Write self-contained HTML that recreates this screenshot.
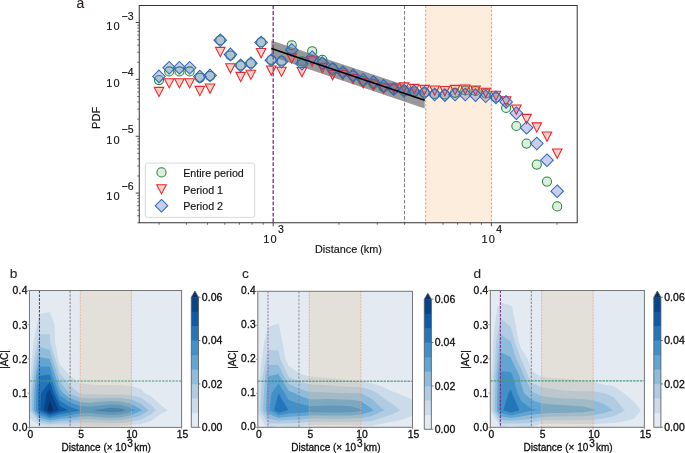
<!DOCTYPE html>
<html><head><meta charset="utf-8"><style>
html,body{margin:0;padding:0;background:#fff;}
svg{display:block;will-change:transform;}
text{stroke:#000;stroke-width:0.3px;}
.top text{stroke-width:0.15px;}
</style></head><body>
<svg width="685" height="453" viewBox="0 0 685 453" font-family='"Liberation Sans", sans-serif'>
<rect width="685" height="453" fill="#fff"/>
<g class="top"><rect x="425.72" y="5.5" width="65.68" height="217.25" fill="#fdeddc"/>
<path d="M271.3,40.4L424.7,91.8L424.7,108.60000000000001L271.3,56.6Z" fill="#999899"/>
<line x1="273.20" y1="5.5" x2="273.20" y2="222.75" stroke="#7a2a8c" stroke-width="1.3" stroke-dasharray="3.8,1.8"/>
<line x1="404.57" y1="5.5" x2="404.57" y2="222.75" stroke="#7a7a7a" stroke-width="1.0" stroke-dasharray="3.6,1.8"/>
<line x1="425.72" y1="5.5" x2="425.72" y2="222.75" stroke="#f0906a" stroke-width="0.9" stroke-dasharray="2.6,1.5"/>
<line x1="491.40" y1="5.5" x2="491.40" y2="222.75" stroke="#f0906a" stroke-width="0.9" stroke-dasharray="2.6,1.5"/>
<circle cx="159.00" cy="80.10" r="4.55" fill="#5cb85c" fill-opacity="0.22" stroke="#2a8540" stroke-width="1.05"/>
<circle cx="169.21" cy="71.40" r="4.55" fill="#5cb85c" fill-opacity="0.22" stroke="#2a8540" stroke-width="1.05"/>
<circle cx="179.42" cy="71.40" r="4.55" fill="#5cb85c" fill-opacity="0.22" stroke="#2a8540" stroke-width="1.05"/>
<circle cx="189.63" cy="71.40" r="4.55" fill="#5cb85c" fill-opacity="0.22" stroke="#2a8540" stroke-width="1.05"/>
<circle cx="199.84" cy="77.80" r="4.55" fill="#5cb85c" fill-opacity="0.22" stroke="#2a8540" stroke-width="1.05"/>
<circle cx="210.05" cy="76.00" r="4.55" fill="#5cb85c" fill-opacity="0.22" stroke="#2a8540" stroke-width="1.05"/>
<circle cx="220.26" cy="40.20" r="4.55" fill="#5cb85c" fill-opacity="0.22" stroke="#2a8540" stroke-width="1.05"/>
<circle cx="230.47" cy="55.50" r="4.55" fill="#5cb85c" fill-opacity="0.22" stroke="#2a8540" stroke-width="1.05"/>
<circle cx="240.68" cy="65.40" r="4.55" fill="#5cb85c" fill-opacity="0.22" stroke="#2a8540" stroke-width="1.05"/>
<circle cx="250.89" cy="63.20" r="4.55" fill="#5cb85c" fill-opacity="0.22" stroke="#2a8540" stroke-width="1.05"/>
<circle cx="261.10" cy="42.20" r="4.55" fill="#5cb85c" fill-opacity="0.22" stroke="#2a8540" stroke-width="1.05"/>
<circle cx="271.31" cy="59.80" r="4.55" fill="#5cb85c" fill-opacity="0.22" stroke="#2a8540" stroke-width="1.05"/>
<circle cx="281.52" cy="60.80" r="4.55" fill="#5cb85c" fill-opacity="0.22" stroke="#2a8540" stroke-width="1.05"/>
<circle cx="291.73" cy="45.20" r="4.55" fill="#5cb85c" fill-opacity="0.22" stroke="#2a8540" stroke-width="1.05"/>
<circle cx="301.94" cy="61.20" r="4.55" fill="#5cb85c" fill-opacity="0.22" stroke="#2a8540" stroke-width="1.05"/>
<circle cx="312.15" cy="51.20" r="4.55" fill="#5cb85c" fill-opacity="0.22" stroke="#2a8540" stroke-width="1.05"/>
<circle cx="322.36" cy="59.80" r="4.55" fill="#5cb85c" fill-opacity="0.22" stroke="#2a8540" stroke-width="1.05"/>
<circle cx="332.57" cy="68.20" r="4.55" fill="#5cb85c" fill-opacity="0.22" stroke="#2a8540" stroke-width="1.05"/>
<circle cx="342.78" cy="72.50" r="4.55" fill="#5cb85c" fill-opacity="0.22" stroke="#2a8540" stroke-width="1.05"/>
<circle cx="352.99" cy="75.80" r="4.55" fill="#5cb85c" fill-opacity="0.22" stroke="#2a8540" stroke-width="1.05"/>
<circle cx="363.20" cy="81.00" r="4.55" fill="#5cb85c" fill-opacity="0.22" stroke="#2a8540" stroke-width="1.05"/>
<circle cx="373.41" cy="84.00" r="4.55" fill="#5cb85c" fill-opacity="0.22" stroke="#2a8540" stroke-width="1.05"/>
<circle cx="383.62" cy="87.50" r="4.55" fill="#5cb85c" fill-opacity="0.22" stroke="#2a8540" stroke-width="1.05"/>
<circle cx="393.83" cy="89.50" r="4.55" fill="#5cb85c" fill-opacity="0.22" stroke="#2a8540" stroke-width="1.05"/>
<circle cx="404.04" cy="91.00" r="4.55" fill="#5cb85c" fill-opacity="0.22" stroke="#2a8540" stroke-width="1.05"/>
<circle cx="414.25" cy="91.50" r="4.55" fill="#5cb85c" fill-opacity="0.22" stroke="#2a8540" stroke-width="1.05"/>
<circle cx="424.46" cy="92.40" r="4.55" fill="#5cb85c" fill-opacity="0.22" stroke="#2a8540" stroke-width="1.05"/>
<circle cx="434.67" cy="94.00" r="4.55" fill="#5cb85c" fill-opacity="0.22" stroke="#2a8540" stroke-width="1.05"/>
<circle cx="444.88" cy="94.50" r="4.55" fill="#5cb85c" fill-opacity="0.22" stroke="#2a8540" stroke-width="1.05"/>
<circle cx="455.09" cy="92.80" r="4.55" fill="#5cb85c" fill-opacity="0.22" stroke="#2a8540" stroke-width="1.05"/>
<circle cx="465.30" cy="90.40" r="4.55" fill="#5cb85c" fill-opacity="0.22" stroke="#2a8540" stroke-width="1.05"/>
<circle cx="475.51" cy="91.00" r="4.55" fill="#5cb85c" fill-opacity="0.22" stroke="#2a8540" stroke-width="1.05"/>
<circle cx="485.72" cy="93.40" r="4.55" fill="#5cb85c" fill-opacity="0.22" stroke="#2a8540" stroke-width="1.05"/>
<circle cx="495.93" cy="97.40" r="4.55" fill="#5cb85c" fill-opacity="0.22" stroke="#2a8540" stroke-width="1.05"/>
<circle cx="506.14" cy="107.90" r="4.55" fill="#5cb85c" fill-opacity="0.22" stroke="#2a8540" stroke-width="1.05"/>
<circle cx="516.35" cy="126.00" r="4.55" fill="#5cb85c" fill-opacity="0.22" stroke="#2a8540" stroke-width="1.05"/>
<circle cx="526.56" cy="143.60" r="4.55" fill="#5cb85c" fill-opacity="0.22" stroke="#2a8540" stroke-width="1.05"/>
<circle cx="536.77" cy="164.60" r="4.55" fill="#5cb85c" fill-opacity="0.22" stroke="#2a8540" stroke-width="1.05"/>
<circle cx="546.98" cy="181.60" r="4.55" fill="#5cb85c" fill-opacity="0.22" stroke="#2a8540" stroke-width="1.05"/>
<circle cx="557.19" cy="206.40" r="4.55" fill="#5cb85c" fill-opacity="0.22" stroke="#2a8540" stroke-width="1.05"/>
<path d="M154.20,87.35L163.80,87.35L159.00,96.65Z" fill="#f26b4f" fill-opacity="0.32" stroke="#e8262c" stroke-width="1.05" stroke-linejoin="miter"/>
<path d="M164.41,78.65L174.01,78.65L169.21,87.95Z" fill="#f26b4f" fill-opacity="0.32" stroke="#e8262c" stroke-width="1.05" stroke-linejoin="miter"/>
<path d="M174.62,78.65L184.22,78.65L179.42,87.95Z" fill="#f26b4f" fill-opacity="0.32" stroke="#e8262c" stroke-width="1.05" stroke-linejoin="miter"/>
<path d="M184.83,78.65L194.43,78.65L189.63,87.95Z" fill="#f26b4f" fill-opacity="0.32" stroke="#e8262c" stroke-width="1.05" stroke-linejoin="miter"/>
<path d="M195.04,86.35L204.64,86.35L199.84,95.65Z" fill="#f26b4f" fill-opacity="0.32" stroke="#e8262c" stroke-width="1.05" stroke-linejoin="miter"/>
<path d="M205.25,84.05L214.85,84.05L210.05,93.35Z" fill="#f26b4f" fill-opacity="0.32" stroke="#e8262c" stroke-width="1.05" stroke-linejoin="miter"/>
<path d="M215.46,47.35L225.06,47.35L220.26,56.65Z" fill="#f26b4f" fill-opacity="0.32" stroke="#e8262c" stroke-width="1.05" stroke-linejoin="miter"/>
<path d="M225.67,63.75L235.27,63.75L230.47,73.05Z" fill="#f26b4f" fill-opacity="0.32" stroke="#e8262c" stroke-width="1.05" stroke-linejoin="miter"/>
<path d="M235.88,72.35L245.48,72.35L240.68,81.65Z" fill="#f26b4f" fill-opacity="0.32" stroke="#e8262c" stroke-width="1.05" stroke-linejoin="miter"/>
<path d="M246.09,70.15L255.69,70.15L250.89,79.45Z" fill="#f26b4f" fill-opacity="0.32" stroke="#e8262c" stroke-width="1.05" stroke-linejoin="miter"/>
<path d="M256.30,48.45L265.90,48.45L261.10,57.75Z" fill="#f26b4f" fill-opacity="0.32" stroke="#e8262c" stroke-width="1.05" stroke-linejoin="miter"/>
<path d="M266.51,66.05L276.11,66.05L271.31,75.35Z" fill="#f26b4f" fill-opacity="0.32" stroke="#e8262c" stroke-width="1.05" stroke-linejoin="miter"/>
<path d="M276.72,67.15L286.32,67.15L281.52,76.45Z" fill="#f26b4f" fill-opacity="0.32" stroke="#e8262c" stroke-width="1.05" stroke-linejoin="miter"/>
<path d="M286.93,53.85L296.53,53.85L291.73,63.15Z" fill="#f26b4f" fill-opacity="0.32" stroke="#e8262c" stroke-width="1.05" stroke-linejoin="miter"/>
<path d="M297.14,67.55L306.74,67.55L301.94,76.85Z" fill="#f26b4f" fill-opacity="0.32" stroke="#e8262c" stroke-width="1.05" stroke-linejoin="miter"/>
<path d="M307.35,56.75L316.95,56.75L312.15,66.05Z" fill="#f26b4f" fill-opacity="0.32" stroke="#e8262c" stroke-width="1.05" stroke-linejoin="miter"/>
<path d="M317.56,63.35L327.16,63.35L322.36,72.65Z" fill="#f26b4f" fill-opacity="0.32" stroke="#e8262c" stroke-width="1.05" stroke-linejoin="miter"/>
<path d="M327.77,70.55L337.37,70.55L332.57,79.85Z" fill="#f26b4f" fill-opacity="0.32" stroke="#e8262c" stroke-width="1.05" stroke-linejoin="miter"/>
<path d="M337.98,70.35L347.58,70.35L342.78,79.65Z" fill="#f26b4f" fill-opacity="0.32" stroke="#e8262c" stroke-width="1.05" stroke-linejoin="miter"/>
<path d="M348.19,74.35L357.79,74.35L352.99,83.65Z" fill="#f26b4f" fill-opacity="0.32" stroke="#e8262c" stroke-width="1.05" stroke-linejoin="miter"/>
<path d="M358.40,78.45L368.00,78.45L363.20,87.75Z" fill="#f26b4f" fill-opacity="0.32" stroke="#e8262c" stroke-width="1.05" stroke-linejoin="miter"/>
<path d="M368.61,80.95L378.21,80.95L373.41,90.25Z" fill="#f26b4f" fill-opacity="0.32" stroke="#e8262c" stroke-width="1.05" stroke-linejoin="miter"/>
<path d="M378.82,83.95L388.42,83.95L383.62,93.25Z" fill="#f26b4f" fill-opacity="0.32" stroke="#e8262c" stroke-width="1.05" stroke-linejoin="miter"/>
<path d="M389.03,83.95L398.63,83.95L393.83,93.25Z" fill="#f26b4f" fill-opacity="0.32" stroke="#e8262c" stroke-width="1.05" stroke-linejoin="miter"/>
<path d="M399.24,82.85L408.84,82.85L404.04,92.15Z" fill="#f26b4f" fill-opacity="0.32" stroke="#e8262c" stroke-width="1.05" stroke-linejoin="miter"/>
<path d="M409.45,84.35L419.05,84.35L414.25,93.65Z" fill="#f26b4f" fill-opacity="0.32" stroke="#e8262c" stroke-width="1.05" stroke-linejoin="miter"/>
<path d="M419.66,85.35L429.26,85.35L424.46,94.65Z" fill="#f26b4f" fill-opacity="0.32" stroke="#e8262c" stroke-width="1.05" stroke-linejoin="miter"/>
<path d="M429.87,85.95L439.47,85.95L434.67,95.25Z" fill="#f26b4f" fill-opacity="0.32" stroke="#e8262c" stroke-width="1.05" stroke-linejoin="miter"/>
<path d="M440.08,86.55L449.68,86.55L444.88,95.85Z" fill="#f26b4f" fill-opacity="0.32" stroke="#e8262c" stroke-width="1.05" stroke-linejoin="miter"/>
<path d="M450.29,85.35L459.89,85.35L455.09,94.65Z" fill="#f26b4f" fill-opacity="0.32" stroke="#e8262c" stroke-width="1.05" stroke-linejoin="miter"/>
<path d="M460.50,84.95L470.10,84.95L465.30,94.25Z" fill="#f26b4f" fill-opacity="0.32" stroke="#e8262c" stroke-width="1.05" stroke-linejoin="miter"/>
<path d="M470.71,85.95L480.31,85.95L475.51,95.25Z" fill="#f26b4f" fill-opacity="0.32" stroke="#e8262c" stroke-width="1.05" stroke-linejoin="miter"/>
<path d="M480.92,88.25L490.52,88.25L485.72,97.55Z" fill="#f26b4f" fill-opacity="0.32" stroke="#e8262c" stroke-width="1.05" stroke-linejoin="miter"/>
<path d="M491.13,91.15L500.73,91.15L495.93,100.45Z" fill="#f26b4f" fill-opacity="0.32" stroke="#e8262c" stroke-width="1.05" stroke-linejoin="miter"/>
<path d="M501.34,96.65L510.94,96.65L506.14,105.95Z" fill="#f26b4f" fill-opacity="0.32" stroke="#e8262c" stroke-width="1.05" stroke-linejoin="miter"/>
<path d="M511.55,104.95L521.15,104.95L516.35,114.25Z" fill="#f26b4f" fill-opacity="0.32" stroke="#e8262c" stroke-width="1.05" stroke-linejoin="miter"/>
<path d="M521.76,114.35L531.36,114.35L526.56,123.65Z" fill="#f26b4f" fill-opacity="0.32" stroke="#e8262c" stroke-width="1.05" stroke-linejoin="miter"/>
<path d="M531.97,122.85L541.57,122.85L536.77,132.15Z" fill="#f26b4f" fill-opacity="0.32" stroke="#e8262c" stroke-width="1.05" stroke-linejoin="miter"/>
<path d="M542.18,131.95L551.78,131.95L546.98,141.25Z" fill="#f26b4f" fill-opacity="0.32" stroke="#e8262c" stroke-width="1.05" stroke-linejoin="miter"/>
<path d="M552.39,148.95L561.99,148.95L557.19,158.25Z" fill="#f26b4f" fill-opacity="0.32" stroke="#e8262c" stroke-width="1.05" stroke-linejoin="miter"/>
<path d="M159.00,70.10L165.30,76.40L159.00,82.70L152.70,76.40Z" fill="#5566c4" fill-opacity="0.32" stroke="#3066c0" stroke-width="1.05"/>
<path d="M169.21,61.50L175.51,67.80L169.21,74.10L162.91,67.80Z" fill="#5566c4" fill-opacity="0.32" stroke="#3066c0" stroke-width="1.05"/>
<path d="M179.42,61.50L185.72,67.80L179.42,74.10L173.12,67.80Z" fill="#5566c4" fill-opacity="0.32" stroke="#3066c0" stroke-width="1.05"/>
<path d="M189.63,61.50L195.93,67.80L189.63,74.10L183.33,67.80Z" fill="#5566c4" fill-opacity="0.32" stroke="#3066c0" stroke-width="1.05"/>
<path d="M199.84,70.30L206.14,76.60L199.84,82.90L193.54,76.60Z" fill="#5566c4" fill-opacity="0.32" stroke="#3066c0" stroke-width="1.05"/>
<path d="M210.05,69.10L216.35,75.40L210.05,81.70L203.75,75.40Z" fill="#5566c4" fill-opacity="0.32" stroke="#3066c0" stroke-width="1.05"/>
<path d="M220.26,33.90L226.56,40.20L220.26,46.50L213.96,40.20Z" fill="#5566c4" fill-opacity="0.32" stroke="#3066c0" stroke-width="1.05"/>
<path d="M230.47,48.10L236.77,54.40L230.47,60.70L224.17,54.40Z" fill="#5566c4" fill-opacity="0.32" stroke="#3066c0" stroke-width="1.05"/>
<path d="M240.68,59.10L246.98,65.40L240.68,71.70L234.38,65.40Z" fill="#5566c4" fill-opacity="0.32" stroke="#3066c0" stroke-width="1.05"/>
<path d="M250.89,56.90L257.19,63.20L250.89,69.50L244.59,63.20Z" fill="#5566c4" fill-opacity="0.32" stroke="#3066c0" stroke-width="1.05"/>
<path d="M261.10,36.20L267.40,42.50L261.10,48.80L254.80,42.50Z" fill="#5566c4" fill-opacity="0.32" stroke="#3066c0" stroke-width="1.05"/>
<path d="M271.31,53.90L277.61,60.20L271.31,66.50L265.01,60.20Z" fill="#5566c4" fill-opacity="0.32" stroke="#3066c0" stroke-width="1.05"/>
<path d="M281.52,55.50L287.82,61.80L281.52,68.10L275.22,61.80Z" fill="#5566c4" fill-opacity="0.32" stroke="#3066c0" stroke-width="1.05"/>
<path d="M291.73,43.60L298.03,49.90L291.73,56.20L285.43,49.90Z" fill="#5566c4" fill-opacity="0.32" stroke="#3066c0" stroke-width="1.05"/>
<path d="M301.94,57.50L308.24,63.80L301.94,70.10L295.64,63.80Z" fill="#5566c4" fill-opacity="0.32" stroke="#3066c0" stroke-width="1.05"/>
<path d="M312.15,50.90L318.45,57.20L312.15,63.50L305.85,57.20Z" fill="#5566c4" fill-opacity="0.32" stroke="#3066c0" stroke-width="1.05"/>
<path d="M322.36,56.80L328.66,63.10L322.36,69.40L316.06,63.10Z" fill="#5566c4" fill-opacity="0.32" stroke="#3066c0" stroke-width="1.05"/>
<path d="M332.57,62.70L338.87,69.00L332.57,75.30L326.27,69.00Z" fill="#5566c4" fill-opacity="0.32" stroke="#3066c0" stroke-width="1.05"/>
<path d="M342.78,65.90L349.08,72.20L342.78,78.50L336.48,72.20Z" fill="#5566c4" fill-opacity="0.32" stroke="#3066c0" stroke-width="1.05"/>
<path d="M352.99,69.10L359.29,75.40L352.99,81.70L346.69,75.40Z" fill="#5566c4" fill-opacity="0.32" stroke="#3066c0" stroke-width="1.05"/>
<path d="M363.20,73.50L369.50,79.80L363.20,86.10L356.90,79.80Z" fill="#5566c4" fill-opacity="0.32" stroke="#3066c0" stroke-width="1.05"/>
<path d="M373.41,75.80L379.71,82.10L373.41,88.40L367.11,82.10Z" fill="#5566c4" fill-opacity="0.32" stroke="#3066c0" stroke-width="1.05"/>
<path d="M383.62,79.60L389.92,85.90L383.62,92.20L377.32,85.90Z" fill="#5566c4" fill-opacity="0.32" stroke="#3066c0" stroke-width="1.05"/>
<path d="M393.83,82.60L400.13,88.90L393.83,95.20L387.53,88.90Z" fill="#5566c4" fill-opacity="0.32" stroke="#3066c0" stroke-width="1.05"/>
<path d="M404.04,84.30L410.34,90.60L404.04,96.90L397.74,90.60Z" fill="#5566c4" fill-opacity="0.32" stroke="#3066c0" stroke-width="1.05"/>
<path d="M414.25,85.10L420.55,91.40L414.25,97.70L407.95,91.40Z" fill="#5566c4" fill-opacity="0.32" stroke="#3066c0" stroke-width="1.05"/>
<path d="M424.46,86.50L430.76,92.80L424.46,99.10L418.16,92.80Z" fill="#5566c4" fill-opacity="0.32" stroke="#3066c0" stroke-width="1.05"/>
<path d="M434.67,88.20L440.97,94.50L434.67,100.80L428.37,94.50Z" fill="#5566c4" fill-opacity="0.32" stroke="#3066c0" stroke-width="1.05"/>
<path d="M444.88,88.80L451.18,95.10L444.88,101.40L438.58,95.10Z" fill="#5566c4" fill-opacity="0.32" stroke="#3066c0" stroke-width="1.05"/>
<path d="M455.09,88.20L461.39,94.50L455.09,100.80L448.79,94.50Z" fill="#5566c4" fill-opacity="0.32" stroke="#3066c0" stroke-width="1.05"/>
<path d="M465.30,88.20L471.60,94.50L465.30,100.80L459.00,94.50Z" fill="#5566c4" fill-opacity="0.32" stroke="#3066c0" stroke-width="1.05"/>
<path d="M475.51,88.80L481.81,95.10L475.51,101.40L469.21,95.10Z" fill="#5566c4" fill-opacity="0.32" stroke="#3066c0" stroke-width="1.05"/>
<path d="M485.72,90.00L492.02,96.30L485.72,102.60L479.42,96.30Z" fill="#5566c4" fill-opacity="0.32" stroke="#3066c0" stroke-width="1.05"/>
<path d="M495.93,91.10L502.23,97.40L495.93,103.70L489.63,97.40Z" fill="#5566c4" fill-opacity="0.32" stroke="#3066c0" stroke-width="1.05"/>
<path d="M506.14,95.60L512.44,101.90L506.14,108.20L499.84,101.90Z" fill="#5566c4" fill-opacity="0.32" stroke="#3066c0" stroke-width="1.05"/>
<path d="M516.35,106.90L522.65,113.20L516.35,119.50L510.05,113.20Z" fill="#5566c4" fill-opacity="0.32" stroke="#3066c0" stroke-width="1.05"/>
<path d="M526.56,121.40L532.86,127.70L526.56,134.00L520.26,127.70Z" fill="#5566c4" fill-opacity="0.32" stroke="#3066c0" stroke-width="1.05"/>
<path d="M536.77,137.20L543.07,143.50L536.77,149.80L530.47,143.50Z" fill="#5566c4" fill-opacity="0.32" stroke="#3066c0" stroke-width="1.05"/>
<path d="M546.98,153.90L553.28,160.20L546.98,166.50L540.68,160.20Z" fill="#5566c4" fill-opacity="0.32" stroke="#3066c0" stroke-width="1.05"/>
<path d="M557.19,184.90L563.49,191.20L557.19,197.50L550.89,191.20Z" fill="#5566c4" fill-opacity="0.32" stroke="#3066c0" stroke-width="1.05"/>
<line x1="271.3" y1="48.5" x2="424.7" y2="100.2" stroke="#000" stroke-width="1.6"/>
<rect x="139.25" y="5.5" width="437.95" height="217.25" fill="none" stroke="#333" stroke-width="1.0"/>
<line x1="137.25" y1="222.85" x2="139.25" y2="222.85" stroke="#333" stroke-width="0.7"/>
<line x1="137.25" y1="215.74" x2="139.25" y2="215.74" stroke="#333" stroke-width="0.7"/>
<line x1="137.25" y1="210.23" x2="139.25" y2="210.23" stroke="#333" stroke-width="0.7"/>
<line x1="137.25" y1="205.73" x2="139.25" y2="205.73" stroke="#333" stroke-width="0.7"/>
<line x1="137.25" y1="201.92" x2="139.25" y2="201.92" stroke="#333" stroke-width="0.7"/>
<line x1="137.25" y1="198.62" x2="139.25" y2="198.62" stroke="#333" stroke-width="0.7"/>
<line x1="137.25" y1="195.71" x2="139.25" y2="195.71" stroke="#333" stroke-width="0.7"/>
<line x1="135.75" y1="193.11" x2="139.25" y2="193.11" stroke="#333" stroke-width="0.9"/>
<line x1="137.25" y1="175.99" x2="139.25" y2="175.99" stroke="#333" stroke-width="0.7"/>
<line x1="137.25" y1="165.98" x2="139.25" y2="165.98" stroke="#333" stroke-width="0.7"/>
<line x1="137.25" y1="158.87" x2="139.25" y2="158.87" stroke="#333" stroke-width="0.7"/>
<line x1="137.25" y1="153.36" x2="139.25" y2="153.36" stroke="#333" stroke-width="0.7"/>
<line x1="137.25" y1="148.86" x2="139.25" y2="148.86" stroke="#333" stroke-width="0.7"/>
<line x1="137.25" y1="145.05" x2="139.25" y2="145.05" stroke="#333" stroke-width="0.7"/>
<line x1="137.25" y1="141.75" x2="139.25" y2="141.75" stroke="#333" stroke-width="0.7"/>
<line x1="137.25" y1="138.84" x2="139.25" y2="138.84" stroke="#333" stroke-width="0.7"/>
<line x1="135.75" y1="136.24" x2="139.25" y2="136.24" stroke="#333" stroke-width="0.9"/>
<line x1="137.25" y1="119.12" x2="139.25" y2="119.12" stroke="#333" stroke-width="0.7"/>
<line x1="137.25" y1="109.11" x2="139.25" y2="109.11" stroke="#333" stroke-width="0.7"/>
<line x1="137.25" y1="102.00" x2="139.25" y2="102.00" stroke="#333" stroke-width="0.7"/>
<line x1="137.25" y1="96.49" x2="139.25" y2="96.49" stroke="#333" stroke-width="0.7"/>
<line x1="137.25" y1="91.99" x2="139.25" y2="91.99" stroke="#333" stroke-width="0.7"/>
<line x1="137.25" y1="88.18" x2="139.25" y2="88.18" stroke="#333" stroke-width="0.7"/>
<line x1="137.25" y1="84.88" x2="139.25" y2="84.88" stroke="#333" stroke-width="0.7"/>
<line x1="137.25" y1="81.97" x2="139.25" y2="81.97" stroke="#333" stroke-width="0.7"/>
<line x1="135.75" y1="79.37" x2="139.25" y2="79.37" stroke="#333" stroke-width="0.9"/>
<line x1="137.25" y1="62.25" x2="139.25" y2="62.25" stroke="#333" stroke-width="0.7"/>
<line x1="137.25" y1="52.24" x2="139.25" y2="52.24" stroke="#333" stroke-width="0.7"/>
<line x1="137.25" y1="45.13" x2="139.25" y2="45.13" stroke="#333" stroke-width="0.7"/>
<line x1="137.25" y1="39.62" x2="139.25" y2="39.62" stroke="#333" stroke-width="0.7"/>
<line x1="137.25" y1="35.12" x2="139.25" y2="35.12" stroke="#333" stroke-width="0.7"/>
<line x1="137.25" y1="31.31" x2="139.25" y2="31.31" stroke="#333" stroke-width="0.7"/>
<line x1="137.25" y1="28.01" x2="139.25" y2="28.01" stroke="#333" stroke-width="0.7"/>
<line x1="137.25" y1="25.10" x2="139.25" y2="25.10" stroke="#333" stroke-width="0.7"/>
<line x1="135.75" y1="22.50" x2="139.25" y2="22.50" stroke="#333" stroke-width="0.9"/>
<line x1="159.11" y1="222.75" x2="159.11" y2="224.75" stroke="#333" stroke-width="0.7"/>
<line x1="186.37" y1="222.75" x2="186.37" y2="224.75" stroke="#333" stroke-width="0.7"/>
<line x1="207.52" y1="222.75" x2="207.52" y2="224.75" stroke="#333" stroke-width="0.7"/>
<line x1="224.79" y1="222.75" x2="224.79" y2="224.75" stroke="#333" stroke-width="0.7"/>
<line x1="239.40" y1="222.75" x2="239.40" y2="224.75" stroke="#333" stroke-width="0.7"/>
<line x1="252.05" y1="222.75" x2="252.05" y2="224.75" stroke="#333" stroke-width="0.7"/>
<line x1="263.22" y1="222.75" x2="263.22" y2="224.75" stroke="#333" stroke-width="0.7"/>
<line x1="273.20" y1="222.75" x2="273.20" y2="226.25" stroke="#333" stroke-width="0.9"/>
<line x1="338.88" y1="222.75" x2="338.88" y2="224.75" stroke="#333" stroke-width="0.7"/>
<line x1="377.31" y1="222.75" x2="377.31" y2="224.75" stroke="#333" stroke-width="0.7"/>
<line x1="404.57" y1="222.75" x2="404.57" y2="224.75" stroke="#333" stroke-width="0.7"/>
<line x1="425.72" y1="222.75" x2="425.72" y2="224.75" stroke="#333" stroke-width="0.7"/>
<line x1="442.99" y1="222.75" x2="442.99" y2="224.75" stroke="#333" stroke-width="0.7"/>
<line x1="457.60" y1="222.75" x2="457.60" y2="224.75" stroke="#333" stroke-width="0.7"/>
<line x1="470.25" y1="222.75" x2="470.25" y2="224.75" stroke="#333" stroke-width="0.7"/>
<line x1="481.42" y1="222.75" x2="481.42" y2="224.75" stroke="#333" stroke-width="0.7"/>
<line x1="491.40" y1="222.75" x2="491.40" y2="226.25" stroke="#333" stroke-width="0.9"/>
<line x1="557.08" y1="222.75" x2="557.08" y2="224.75" stroke="#333" stroke-width="0.7"/>
<text x="106.3" y="29.80" font-size="11" letter-spacing="1.2" fill="#1a1718">10</text>
<text x="121.5" y="19.60" font-size="10.5" fill="#1a1718">−3</text>
<text x="106.3" y="86.67" font-size="11" letter-spacing="1.2" fill="#1a1718">10</text>
<text x="121.5" y="76.47" font-size="10.5" fill="#1a1718">−4</text>
<text x="106.3" y="143.54" font-size="11" letter-spacing="1.2" fill="#1a1718">10</text>
<text x="121.5" y="133.34" font-size="10.5" fill="#1a1718">−5</text>
<text x="106.3" y="200.41" font-size="11" letter-spacing="1.2" fill="#1a1718">10</text>
<text x="121.5" y="190.21" font-size="10.5" fill="#1a1718">−6</text>
<text x="263.20" y="243.00" font-size="11" letter-spacing="1.2" fill="#1a1718">10</text>
<text x="278.00" y="232.70" font-size="10.5" fill="#1a1718">3</text>
<text x="481.40" y="243.00" font-size="11" letter-spacing="1.2" fill="#1a1718">10</text>
<text x="496.20" y="232.70" font-size="10.5" fill="#1a1718">4</text>
<text x="315.0" y="253" font-size="10.85" fill="#1a1718">Distance (km)</text>
<text transform="translate(99.6,117.9) rotate(-90)" text-anchor="middle" font-size="11" fill="#1a1718">PDF</text>
<text x="76.6" y="7.6" font-size="14" fill="#2b1d1d" style="stroke:#2b1d1d;stroke-width:0.1px">a</text>
<rect x="145.3" y="163.1" width="109.5" height="54.3" rx="2" ry="2" fill="#fff" fill-opacity="0.8" stroke="#d4d4d4" stroke-width="0.9"/>
<circle cx="161.50" cy="172.40" r="4.55" fill="#5cb85c" fill-opacity="0.22" stroke="#2a8540" stroke-width="1.05"/>
<path d="M156.70,184.65L166.30,184.65L161.50,193.95Z" fill="#f26b4f" fill-opacity="0.32" stroke="#e8262c" stroke-width="1.05" stroke-linejoin="miter"/>
<path d="M161.50,199.40L167.80,205.70L161.50,212.00L155.20,205.70Z" fill="#5566c4" fill-opacity="0.32" stroke="#3066c0" stroke-width="1.05"/>
<text x="183.2" y="177.2" font-size="10.7" fill="#1a1718">Entire period</text>
<text x="183.2" y="193.6" font-size="10.7" fill="#1a1718">Period 1</text>
<text x="183.2" y="210.1" font-size="10.7" fill="#1a1718">Period 2</text></g>
<rect x="29.45" y="290.5" width="152.15" height="136.90" fill="#e3eaf2"/>
<svg x="29.45" y="290.5" width="152.15" height="136.90" viewBox="29.45 290.5 152.15 136.90" overflow="hidden">
<path d="M39.59,425.54L49.74,426.13L59.88,425.75L70.02,426.19L80.17,425.70L90.31,425.70L100.45,426.05L110.60,426.04L120.74,425.70L130.88,424.92L141.03,424.00L151.17,420.84L161.31,413.66L167.94,410.29L161.31,405.48L151.17,396.21L145.04,393.17L141.03,388.98L130.88,385.92L120.74,385.24L110.60,385.24L100.45,384.90L90.31,384.56L80.17,383.54L70.06,376.06L70.02,376.02L59.88,364.48L58.19,358.95L55.00,341.84L54.55,324.72L49.74,312.06L39.59,314.12L36.97,324.72L33.49,341.84L31.87,358.95L30.19,376.06L29.45,383.67L29.45,393.17L29.45,410.29L29.45,418.58Z" fill="#cbdbe9" fill-rule="evenodd"/>
<path d="M39.59,422.91L49.74,424.29L59.88,423.47L70.02,423.44L80.17,422.62L90.31,422.53L100.45,423.07L110.60,423.30L120.74,422.90L130.88,421.67L141.03,419.61L151.17,414.29L155.70,410.29L151.17,404.95L141.03,397.74L130.88,395.25L120.74,394.56L110.60,394.49L100.45,394.44L90.31,394.37L80.17,393.58L79.08,393.17L70.02,385.48L61.94,376.06L59.88,373.72L55.37,358.95L50.11,341.84L49.74,334.31L39.59,334.31L37.53,341.84L34.28,358.95L32.06,376.06L30.42,393.17L29.86,410.29Z" fill="#b1cce2" fill-rule="evenodd"/>
<path d="M39.59,420.27L49.74,422.44L59.88,421.20L70.02,420.68L80.17,419.54L90.31,419.35L100.45,420.10L110.60,420.56L120.74,420.09L130.88,418.42L141.03,415.22L148.56,410.29L141.03,403.64L130.88,399.54L120.74,398.06L110.60,397.81L100.45,398.13L90.31,398.51L80.17,397.76L70.02,393.97L68.99,393.17L59.88,381.47L57.96,376.06L52.56,358.95L49.74,350.05L39.59,346.80L36.70,358.95L33.92,376.06L32.35,393.17L31.89,410.29Z" fill="#8fbcdb" fill-rule="evenodd"/>
<path d="M39.59,417.64L49.74,420.60L59.88,418.92L70.02,417.93L80.17,416.45L90.31,416.17L100.45,417.13L110.60,417.82L120.74,417.29L130.88,415.18L141.03,410.84L141.86,410.29L141.03,409.55L130.88,403.83L120.74,401.56L110.60,401.14L100.45,401.81L90.31,402.64L80.17,401.94L70.02,398.29L63.35,393.17L59.88,388.72L55.38,376.06L49.74,358.95L49.73,358.95L39.59,356.96L39.12,358.95L35.78,376.06L34.28,393.17L33.92,410.29Z" fill="#62a5d3" fill-rule="evenodd"/>
<path d="M39.59,415.01L49.74,418.75L59.88,416.64L70.02,415.18L80.17,413.37L90.31,412.99L100.45,414.15L110.60,415.08L120.74,414.48L130.88,411.93L134.60,410.29L130.88,408.12L120.74,405.06L110.60,404.47L100.45,405.50L90.31,406.77L80.17,406.11L70.02,402.61L59.88,395.25L58.89,393.17L52.80,376.06L49.74,366.77L39.59,366.39L37.64,376.06L36.21,393.17L35.95,410.29Z" fill="#4190c8" fill-rule="evenodd"/>
<path d="M39.59,412.38L49.74,416.91L59.88,414.37L70.02,412.42L80.17,410.29L80.17,410.29L80.17,410.29L70.02,406.94L59.88,400.64L56.33,393.17L50.22,376.06L49.74,374.60L39.59,375.63L39.51,376.06L38.14,393.17L37.98,410.29ZM100.45,411.18L110.60,412.34L120.74,411.68L125.81,410.29L120.74,408.56L110.60,407.79L100.45,409.18L93.69,410.29Z" fill="#2576b8" fill-rule="evenodd"/>
<path d="M49.74,415.07L59.88,412.09L67.78,410.29L59.88,406.02L53.77,393.17L49.74,381.89L40.98,393.17L40.34,410.29Z" fill="#0d5aa6" fill-rule="evenodd"/>
<path d="M49.74,413.22L58.71,410.29L51.21,393.17L49.74,389.05L46.54,393.17L43.97,410.29Z" fill="#084586" fill-rule="evenodd"/>
<path d="M49.74,411.38L53.07,410.29L49.74,400.33L47.59,410.29Z" fill="#08306b" fill-rule="evenodd"/>
</svg>
<rect x="80.33" y="290.5" width="51.10" height="136.90" fill="#e8b478" fill-opacity="0.2"/>
<line x1="39.45" y1="290.5" x2="39.45" y2="427.4" stroke="#7a2d88" stroke-width="1.1" stroke-dasharray="2.6,1.3"/>
<line x1="70.11" y1="290.5" x2="70.11" y2="427.4" stroke="#707070" stroke-width="0.85" stroke-dasharray="2.4,1.3"/>
<line x1="80.33" y1="290.5" x2="80.33" y2="427.4" stroke="#f0a080" stroke-width="0.75" stroke-dasharray="1.8,1.2"/>
<line x1="131.43" y1="290.5" x2="131.43" y2="427.4" stroke="#f0a080" stroke-width="0.75" stroke-dasharray="1.8,1.2"/>
<line x1="29.45" y1="380.96" x2="181.6" y2="380.96" stroke="#4a9e74" stroke-width="1.15" stroke-dasharray="2.4,1.0"/>
<rect x="29.45" y="290.5" width="152.15" height="136.90" fill="none" stroke="#767676" stroke-width="1.0"/>
<line x1="29.45" y1="427.4" x2="29.45" y2="429.4" stroke="#8c8c8c" stroke-width="0.8"/>
<text x="30.45" y="438.0" text-anchor="middle" font-size="10.3" fill="#1a1718">0</text>
<line x1="80.17" y1="427.4" x2="80.17" y2="429.4" stroke="#8c8c8c" stroke-width="0.8"/>
<text x="81.17" y="438.0" text-anchor="middle" font-size="10.3" fill="#1a1718">5</text>
<line x1="130.88" y1="427.4" x2="130.88" y2="429.4" stroke="#8c8c8c" stroke-width="0.8"/>
<text x="131.88" y="438.0" text-anchor="middle" font-size="10.3" fill="#1a1718">10</text>
<line x1="181.60" y1="427.4" x2="181.60" y2="429.4" stroke="#8c8c8c" stroke-width="0.8"/>
<text x="182.60" y="438.0" text-anchor="middle" font-size="10.3" fill="#1a1718">15</text>
<line x1="27.45" y1="427.40" x2="29.45" y2="427.40" stroke="#8c8c8c" stroke-width="0.8"/>
<text x="27.75" y="431.20" text-anchor="end" font-size="10.3" letter-spacing="0.3" fill="#1a1718">0.0</text>
<line x1="27.45" y1="393.17" x2="29.45" y2="393.17" stroke="#8c8c8c" stroke-width="0.8"/>
<text x="27.75" y="396.97" text-anchor="end" font-size="10.3" letter-spacing="0.3" fill="#1a1718">0.1</text>
<line x1="27.45" y1="358.95" x2="29.45" y2="358.95" stroke="#8c8c8c" stroke-width="0.8"/>
<text x="27.75" y="362.75" text-anchor="end" font-size="10.3" letter-spacing="0.3" fill="#1a1718">0.2</text>
<line x1="27.45" y1="324.73" x2="29.45" y2="324.73" stroke="#8c8c8c" stroke-width="0.8"/>
<text x="27.75" y="328.53" text-anchor="end" font-size="10.3" letter-spacing="0.3" fill="#1a1718">0.3</text>
<line x1="27.45" y1="290.50" x2="29.45" y2="290.50" stroke="#8c8c8c" stroke-width="0.8"/>
<text x="27.75" y="294.30" text-anchor="end" font-size="10.3" letter-spacing="0.3" fill="#1a1718">0.4</text>
<text transform="translate(106.22,450.6) scale(0.92,1)" text-anchor="middle" font-size="10.9" fill="#1a1718">Distance (× 10<tspan dx="0.9" dy="-3.6" font-size="11">3</tspan><tspan dx="1.3" dy="3.6">km)</tspan></text>
<text transform="translate(7.65,359.6) rotate(-90) scale(0.86,1)" text-anchor="middle" font-size="11.3" fill="#1a1718">|AC|</text>
<text x="9.700000000000001" y="278.4" font-size="13.7" fill="#2b1d1d" style="stroke:#2b1d1d;stroke-width:0.1px">b</text>
<rect x="191.3" y="412.84" width="7.20" height="14.76" fill="#e3eaf2"/>
<rect x="191.3" y="398.39" width="7.20" height="14.76" fill="#cbdbe9"/>
<rect x="191.3" y="383.93" width="7.20" height="14.76" fill="#b1cce2"/>
<rect x="191.3" y="369.48" width="7.20" height="14.76" fill="#8fbcdb"/>
<rect x="191.3" y="355.02" width="7.20" height="14.76" fill="#62a5d3"/>
<rect x="191.3" y="340.57" width="7.20" height="14.76" fill="#4190c8"/>
<rect x="191.3" y="326.11" width="7.20" height="14.76" fill="#2576b8"/>
<rect x="191.3" y="311.66" width="7.20" height="14.76" fill="#0d5aa6"/>
<rect x="191.3" y="297.20" width="7.20" height="14.76" fill="#084586"/>
<path d="M191.3,297.5L194.90,291.0L198.5,297.5Z" fill="#08306b"/>
<path d="M191.3,427.3L191.3,297.2L194.90,291.0L198.5,297.2L198.5,427.3Z" fill="none" stroke="#555" stroke-width="0.8"/>
<line x1="198.5" y1="427.30" x2="200.5" y2="427.30" stroke="#555" stroke-width="0.8"/>
<text x="201.80" y="431.10" font-size="10.5" letter-spacing="0.05" fill="#1a1718">0.00</text>
<line x1="198.5" y1="383.93" x2="200.5" y2="383.93" stroke="#555" stroke-width="0.8"/>
<text x="201.80" y="387.73" font-size="10.5" letter-spacing="0.05" fill="#1a1718">0.02</text>
<line x1="198.5" y1="340.57" x2="200.5" y2="340.57" stroke="#555" stroke-width="0.8"/>
<text x="201.80" y="344.37" font-size="10.5" letter-spacing="0.05" fill="#1a1718">0.04</text>
<line x1="198.5" y1="297.20" x2="200.5" y2="297.20" stroke="#555" stroke-width="0.8"/>
<text x="201.80" y="301.00" font-size="10.5" letter-spacing="0.05" fill="#1a1718">0.06</text>
<rect x="257.8" y="291.3" width="154.70" height="136.00" fill="#e3eaf2"/>
<svg x="257.8" y="291.3" width="154.70" height="136.00" viewBox="257.8 291.3 154.70 136.00" overflow="hidden">
<path d="M268.11,427.30L271.09,427.30L278.43,426.08L288.74,426.67L299.05,426.41L309.37,424.90L319.68,424.90L329.99,424.73L340.31,424.74L350.62,424.92L360.93,425.31L371.25,426.08L381.56,423.74L391.87,421.85L402.19,419.82L412.50,415.40L412.50,410.30L412.50,399.42L402.19,395.34L397.49,393.30L391.87,391.18L381.56,386.37L371.25,383.17L360.93,381.45L350.62,380.51L340.31,379.60L329.99,378.20L319.68,377.33L309.37,376.56L307.91,376.30L299.05,372.90L288.74,366.10L285.53,359.30L282.61,342.30L279.07,325.30L278.43,323.26L273.35,325.30L268.11,327.00L264.19,342.30L261.94,359.30L259.76,376.30L258.09,393.30L257.80,398.97L257.80,410.30L257.80,413.32L266.38,427.30Z" fill="#cbdbe9" fill-rule="evenodd"/>
<path d="M268.11,423.38L278.43,423.43L288.74,423.37L299.05,423.05L309.37,421.74L319.68,421.74L329.99,421.69L340.31,421.69L350.62,421.74L360.93,421.68L371.25,421.18L381.56,417.63L391.87,414.40L400.28,410.30L391.87,403.65L381.56,396.81L377.47,393.30L371.25,390.03L360.93,387.36L350.62,386.89L340.31,386.35L329.99,385.42L319.68,384.78L309.37,384.34L299.05,381.67L288.74,376.91L288.35,376.30L280.25,359.30L278.43,350.46L268.11,349.78L266.08,359.30L262.55,376.30L260.95,393.30L260.15,410.30Z" fill="#b1cce2" fill-rule="evenodd"/>
<path d="M268.11,418.55L278.43,420.77L288.74,420.07L299.05,419.69L309.37,418.58L319.68,418.58L329.99,418.65L340.31,418.65L350.62,418.57L360.93,418.05L371.25,416.29L381.56,411.53L384.74,410.30L381.56,408.04L371.25,398.40L361.03,393.30L360.93,393.27L350.62,393.26L340.31,393.10L329.99,392.64L319.68,392.23L309.37,392.12L299.05,388.43L288.74,383.78L283.98,376.30L278.43,365.08L268.11,365.08L265.35,376.30L263.82,393.30L263.09,410.30Z" fill="#8fbcdb" fill-rule="evenodd"/>
<path d="M268.11,413.72L278.43,418.12L288.74,416.77L299.05,416.32L309.37,415.42L319.68,415.41L329.99,415.61L340.31,415.61L350.62,415.39L360.93,414.42L371.25,411.39L373.50,410.30L371.25,408.13L360.93,401.24L350.62,399.81L340.31,399.38L329.99,399.11L319.68,399.18L309.37,399.15L299.05,395.59L294.73,393.30L288.74,390.65L279.61,376.30L278.43,373.91L268.49,376.30L268.11,376.64L266.68,393.30L266.03,410.30Z" fill="#62a5d3" fill-rule="evenodd"/>
<path d="M278.43,415.47L288.74,413.47L299.05,412.96L309.37,412.26L319.68,412.25L329.99,412.58L340.31,412.57L350.62,412.21L360.93,410.80L362.47,410.30L360.93,409.21L350.62,406.36L340.31,405.64L329.99,405.51L319.68,406.06L309.37,406.03L299.05,403.80L288.74,399.92L284.82,393.30L278.43,383.46L271.55,393.30L269.45,410.30Z" fill="#4190c8" fill-rule="evenodd"/>
<path d="M278.43,412.82L288.34,410.30L278.43,393.30L278.43,393.29L278.42,393.30L274.05,410.30Z" fill="#2576b8" fill-rule="evenodd"/>
</svg>
<rect x="309.24" y="291.3" width="51.55" height="136.00" fill="#e8b478" fill-opacity="0.2"/>
<line x1="268.00" y1="291.3" x2="268.00" y2="427.3" stroke="#9b62a8" stroke-width="0.95" stroke-dasharray="2.0,1.3"/>
<line x1="298.93" y1="291.3" x2="298.93" y2="427.3" stroke="#7c7c7c" stroke-width="0.75" stroke-dasharray="2.4,1.3"/>
<line x1="309.24" y1="291.3" x2="309.24" y2="427.3" stroke="#f0a080" stroke-width="0.75" stroke-dasharray="1.8,1.2"/>
<line x1="360.79" y1="291.3" x2="360.79" y2="427.3" stroke="#f0a080" stroke-width="0.75" stroke-dasharray="1.8,1.2"/>
<line x1="257.8" y1="381.16" x2="412.5" y2="381.16" stroke="#2f8a55" stroke-width="1.0" stroke-dasharray="2.5,0.9"/>
<rect x="257.8" y="291.3" width="154.70" height="136.00" fill="none" stroke="#767676" stroke-width="1.0"/>
<line x1="257.80" y1="427.3" x2="257.80" y2="429.3" stroke="#8c8c8c" stroke-width="0.8"/>
<text x="258.80" y="438.0" text-anchor="middle" font-size="10.3" fill="#1a1718">0</text>
<line x1="309.37" y1="427.3" x2="309.37" y2="429.3" stroke="#8c8c8c" stroke-width="0.8"/>
<text x="310.37" y="438.0" text-anchor="middle" font-size="10.3" fill="#1a1718">5</text>
<line x1="360.93" y1="427.3" x2="360.93" y2="429.3" stroke="#8c8c8c" stroke-width="0.8"/>
<text x="361.93" y="438.0" text-anchor="middle" font-size="10.3" fill="#1a1718">10</text>
<line x1="412.50" y1="427.3" x2="412.50" y2="429.3" stroke="#8c8c8c" stroke-width="0.8"/>
<text x="413.50" y="438.0" text-anchor="middle" font-size="10.3" fill="#1a1718">15</text>
<line x1="255.8" y1="427.30" x2="257.8" y2="427.30" stroke="#8c8c8c" stroke-width="0.8"/>
<text x="256.10" y="430.40" text-anchor="end" font-size="10.3" letter-spacing="0.3" fill="#1a1718">0.0</text>
<line x1="255.8" y1="393.30" x2="257.8" y2="393.30" stroke="#8c8c8c" stroke-width="0.8"/>
<text x="256.10" y="396.40" text-anchor="end" font-size="10.3" letter-spacing="0.3" fill="#1a1718">0.1</text>
<line x1="255.8" y1="359.30" x2="257.8" y2="359.30" stroke="#8c8c8c" stroke-width="0.8"/>
<text x="256.10" y="362.40" text-anchor="end" font-size="10.3" letter-spacing="0.3" fill="#1a1718">0.2</text>
<line x1="255.8" y1="325.30" x2="257.8" y2="325.30" stroke="#8c8c8c" stroke-width="0.8"/>
<text x="256.10" y="328.40" text-anchor="end" font-size="10.3" letter-spacing="0.3" fill="#1a1718">0.3</text>
<line x1="255.8" y1="291.30" x2="257.8" y2="291.30" stroke="#8c8c8c" stroke-width="0.8"/>
<text x="256.10" y="294.40" text-anchor="end" font-size="10.3" letter-spacing="0.3" fill="#1a1718">0.4</text>
<text transform="translate(335.85,450.6) scale(0.92,1)" text-anchor="middle" font-size="10.9" fill="#1a1718">Distance (× 10<tspan dx="0.9" dy="-3.6" font-size="11">3</tspan><tspan dx="1.3" dy="3.6">km)</tspan></text>
<text transform="translate(236.15,359.6) rotate(-90) scale(0.86,1)" text-anchor="middle" font-size="11.3" fill="#1a1718">|AC|</text>
<text x="242.0" y="278.4" font-size="13.7" fill="#2b1d1d" style="stroke:#2b1d1d;stroke-width:0.1px">c</text>
<rect x="424.3" y="414.84" width="7.10" height="14.76" fill="#e3eaf2"/>
<rect x="424.3" y="400.39" width="7.10" height="14.76" fill="#cbdbe9"/>
<rect x="424.3" y="385.93" width="7.10" height="14.76" fill="#b1cce2"/>
<rect x="424.3" y="371.48" width="7.10" height="14.76" fill="#8fbcdb"/>
<rect x="424.3" y="357.02" width="7.10" height="14.76" fill="#62a5d3"/>
<rect x="424.3" y="342.57" width="7.10" height="14.76" fill="#4190c8"/>
<rect x="424.3" y="328.11" width="7.10" height="14.76" fill="#2576b8"/>
<rect x="424.3" y="313.66" width="7.10" height="14.76" fill="#0d5aa6"/>
<rect x="424.3" y="299.20" width="7.10" height="14.76" fill="#084586"/>
<path d="M424.3,299.5L427.85,293.2L431.4,299.5Z" fill="#08306b"/>
<path d="M424.3,429.3L424.3,299.2L427.85,293.2L431.4,299.2L431.4,429.3Z" fill="none" stroke="#555" stroke-width="0.8"/>
<line x1="431.4" y1="429.30" x2="433.4" y2="429.30" stroke="#555" stroke-width="0.8"/>
<text x="434.70" y="433.10" font-size="10.5" letter-spacing="0.05" fill="#1a1718">0.00</text>
<line x1="431.4" y1="385.93" x2="433.4" y2="385.93" stroke="#555" stroke-width="0.8"/>
<text x="434.70" y="389.73" font-size="10.5" letter-spacing="0.05" fill="#1a1718">0.02</text>
<line x1="431.4" y1="342.57" x2="433.4" y2="342.57" stroke="#555" stroke-width="0.8"/>
<text x="434.70" y="346.37" font-size="10.5" letter-spacing="0.05" fill="#1a1718">0.04</text>
<line x1="431.4" y1="299.20" x2="433.4" y2="299.20" stroke="#555" stroke-width="0.8"/>
<text x="434.70" y="303.00" font-size="10.5" letter-spacing="0.05" fill="#1a1718">0.06</text>
<rect x="490.3" y="290.5" width="154.10" height="136.80" fill="#e3eaf2"/>
<svg x="490.3" y="290.5" width="154.10" height="136.80" viewBox="490.3 290.5 154.10 136.80" overflow="hidden">
<path d="M500.57,427.19L510.85,426.07L521.12,426.89L531.39,426.92L541.67,423.84L551.94,423.73L562.21,423.72L572.49,423.88L582.76,424.09L593.03,424.34L603.31,423.54L613.58,423.11L623.85,421.49L634.13,418.75L640.84,410.20L634.13,401.65L623.85,393.10L623.85,393.10L613.58,385.90L603.31,384.39L593.03,381.80L582.76,380.64L572.49,379.23L562.21,378.82L551.94,377.90L541.67,376.56L539.70,376.00L531.39,370.87L527.81,358.90L521.12,348.64L518.63,341.80L515.68,324.70L512.08,307.60L510.85,305.55L500.57,302.47L497.49,307.60L494.73,324.70L493.21,341.80L492.68,358.90L491.47,376.00L490.53,393.10L490.52,410.20Z" fill="#cbdbe9" fill-rule="evenodd"/>
<path d="M500.57,423.53L510.85,423.40L521.12,423.43L531.39,422.89L541.67,420.37L551.94,420.16L562.21,420.14L572.49,420.13L582.76,420.12L593.03,419.81L603.31,418.41L613.58,416.56L623.85,410.63L625.30,410.20L623.85,409.54L613.58,396.91L604.16,393.10L603.31,392.89L593.03,391.14L582.76,391.44L572.49,390.88L562.21,390.30L551.94,388.78L541.67,387.28L531.39,382.56L528.24,376.00L521.12,359.29L520.92,358.90L514.74,341.80L510.85,326.41L508.21,324.70L500.57,318.54L499.15,324.70L496.12,341.80L495.07,358.90L493.61,376.00L492.81,393.10L492.68,410.20Z" fill="#b1cce2" fill-rule="evenodd"/>
<path d="M500.57,419.87L510.85,420.74L521.12,419.96L531.39,418.86L541.67,416.91L551.94,416.59L562.21,416.56L572.49,416.37L582.76,416.16L593.03,415.29L603.31,413.28L613.10,410.20L603.31,403.67L593.03,400.16L582.76,399.26L572.49,398.74L562.21,398.20L551.94,397.41L541.67,396.37L535.04,393.10L531.39,390.98L524.21,376.00L521.12,368.76L516.15,358.90L510.85,341.80L510.85,341.80L500.57,334.28L499.02,341.80L497.45,358.90L495.74,376.00L495.09,393.10L494.85,410.20Z" fill="#8fbcdb" fill-rule="evenodd"/>
<path d="M500.57,416.21L510.85,418.07L521.12,416.49L531.39,414.84L541.67,413.45L551.94,413.02L562.21,412.99L572.49,412.62L582.76,412.19L593.03,410.76L595.46,410.20L593.03,409.10L582.76,406.55L572.49,405.71L562.21,404.95L551.94,404.56L541.67,403.51L531.39,399.83L523.97,393.10L521.12,383.70L519.53,376.00L511.38,358.90L510.85,357.19L500.57,352.06L499.83,358.90L497.87,376.00L497.38,393.10L497.02,410.20Z" fill="#62a5d3" fill-rule="evenodd"/>
<path d="M500.57,412.54L510.85,415.40L521.12,413.03L531.39,410.81L538.64,410.20L531.39,408.84L521.12,401.07L517.25,393.10L512.75,376.00L510.85,371.90L500.57,371.21L500.00,376.00L499.66,393.10L499.19,410.20Z" fill="#4190c8" fill-rule="evenodd"/>
<path d="M510.85,412.74L519.45,410.20L511.82,393.10L510.85,389.68L508.48,393.10L503.40,410.20Z" fill="#2576b8" fill-rule="evenodd"/>
</svg>
<rect x="541.60" y="290.5" width="51.50" height="136.80" fill="#e8b478" fill-opacity="0.2"/>
<line x1="500.40" y1="290.5" x2="500.40" y2="427.3" stroke="#7d3385" stroke-width="1.1" stroke-dasharray="2.6,1.3"/>
<line x1="531.30" y1="290.5" x2="531.30" y2="427.3" stroke="#707070" stroke-width="0.85" stroke-dasharray="2.4,1.3"/>
<line x1="541.60" y1="290.5" x2="541.60" y2="427.3" stroke="#f0a080" stroke-width="0.75" stroke-dasharray="1.8,1.2"/>
<line x1="593.10" y1="290.5" x2="593.10" y2="427.3" stroke="#f0a080" stroke-width="0.75" stroke-dasharray="1.8,1.2"/>
<line x1="490.3" y1="380.89" x2="644.4" y2="380.89" stroke="#4a9e74" stroke-width="1.15" stroke-dasharray="2.4,1.0"/>
<rect x="490.3" y="290.5" width="154.10" height="136.80" fill="none" stroke="#767676" stroke-width="1.0"/>
<line x1="490.30" y1="427.3" x2="490.30" y2="429.3" stroke="#8c8c8c" stroke-width="0.8"/>
<text x="491.30" y="438.0" text-anchor="middle" font-size="10.3" fill="#1a1718">0</text>
<line x1="541.67" y1="427.3" x2="541.67" y2="429.3" stroke="#8c8c8c" stroke-width="0.8"/>
<text x="542.67" y="438.0" text-anchor="middle" font-size="10.3" fill="#1a1718">5</text>
<line x1="593.03" y1="427.3" x2="593.03" y2="429.3" stroke="#8c8c8c" stroke-width="0.8"/>
<text x="594.03" y="438.0" text-anchor="middle" font-size="10.3" fill="#1a1718">10</text>
<line x1="644.40" y1="427.3" x2="644.40" y2="429.3" stroke="#8c8c8c" stroke-width="0.8"/>
<text x="645.40" y="438.0" text-anchor="middle" font-size="10.3" fill="#1a1718">15</text>
<line x1="488.3" y1="427.30" x2="490.3" y2="427.30" stroke="#8c8c8c" stroke-width="0.8"/>
<text x="488.60" y="431.10" text-anchor="end" font-size="10.3" letter-spacing="0.3" fill="#1a1718">0.0</text>
<line x1="488.3" y1="393.10" x2="490.3" y2="393.10" stroke="#8c8c8c" stroke-width="0.8"/>
<text x="488.60" y="396.90" text-anchor="end" font-size="10.3" letter-spacing="0.3" fill="#1a1718">0.1</text>
<line x1="488.3" y1="358.90" x2="490.3" y2="358.90" stroke="#8c8c8c" stroke-width="0.8"/>
<text x="488.60" y="362.70" text-anchor="end" font-size="10.3" letter-spacing="0.3" fill="#1a1718">0.2</text>
<line x1="488.3" y1="324.70" x2="490.3" y2="324.70" stroke="#8c8c8c" stroke-width="0.8"/>
<text x="488.60" y="328.50" text-anchor="end" font-size="10.3" letter-spacing="0.3" fill="#1a1718">0.3</text>
<line x1="488.3" y1="290.50" x2="490.3" y2="290.50" stroke="#8c8c8c" stroke-width="0.8"/>
<text x="488.60" y="294.30" text-anchor="end" font-size="10.3" letter-spacing="0.3" fill="#1a1718">0.4</text>
<text transform="translate(568.05,450.6) scale(0.92,1)" text-anchor="middle" font-size="10.9" fill="#1a1718">Distance (× 10<tspan dx="0.9" dy="-3.6" font-size="11">3</tspan><tspan dx="1.3" dy="3.6">km)</tspan></text>
<text transform="translate(469.05,359.6) rotate(-90) scale(0.86,1)" text-anchor="middle" font-size="11.3" fill="#1a1718">|AC|</text>
<text x="473.5" y="278.4" font-size="13.7" fill="#2b1d1d" style="stroke:#2b1d1d;stroke-width:0.1px">d</text>
<rect x="653.8" y="412.84" width="7.10" height="14.76" fill="#e3eaf2"/>
<rect x="653.8" y="398.39" width="7.10" height="14.76" fill="#cbdbe9"/>
<rect x="653.8" y="383.93" width="7.10" height="14.76" fill="#b1cce2"/>
<rect x="653.8" y="369.48" width="7.10" height="14.76" fill="#8fbcdb"/>
<rect x="653.8" y="355.02" width="7.10" height="14.76" fill="#62a5d3"/>
<rect x="653.8" y="340.57" width="7.10" height="14.76" fill="#4190c8"/>
<rect x="653.8" y="326.11" width="7.10" height="14.76" fill="#2576b8"/>
<rect x="653.8" y="311.66" width="7.10" height="14.76" fill="#0d5aa6"/>
<rect x="653.8" y="297.20" width="7.10" height="14.76" fill="#084586"/>
<path d="M653.8,297.5L657.35,291.0L660.9,297.5Z" fill="#08306b"/>
<path d="M653.8,427.3L653.8,297.2L657.35,291.0L660.9,297.2L660.9,427.3Z" fill="none" stroke="#555" stroke-width="0.8"/>
<line x1="660.9" y1="427.30" x2="662.9" y2="427.30" stroke="#555" stroke-width="0.8"/>
<text x="664.20" y="431.10" font-size="10.5" letter-spacing="0.05" fill="#1a1718">0.00</text>
<line x1="660.9" y1="383.93" x2="662.9" y2="383.93" stroke="#555" stroke-width="0.8"/>
<text x="664.20" y="387.73" font-size="10.5" letter-spacing="0.05" fill="#1a1718">0.02</text>
<line x1="660.9" y1="340.57" x2="662.9" y2="340.57" stroke="#555" stroke-width="0.8"/>
<text x="664.20" y="344.37" font-size="10.5" letter-spacing="0.05" fill="#1a1718">0.04</text>
<line x1="660.9" y1="297.20" x2="662.9" y2="297.20" stroke="#555" stroke-width="0.8"/>
<text x="664.20" y="301.00" font-size="10.5" letter-spacing="0.05" fill="#1a1718">0.06</text>
</svg>
</body></html>
